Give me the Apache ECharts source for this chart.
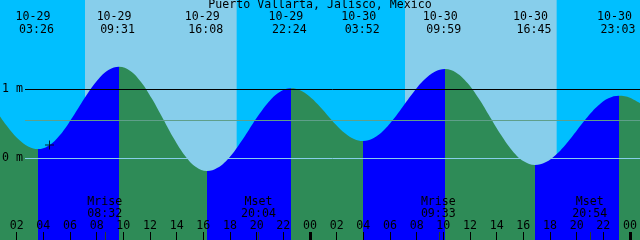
<!DOCTYPE html>
<html><head><meta charset="utf-8">
<script src="https://cdn.jsdelivr.net/npm/echarts@6/dist/echarts.min.js"></script>
<style>html,body{margin:0;padding:0;background:#00BFFF;overflow:hidden}#c{width:640px;height:240px}</style>
</head><body><div id="c"></div>
<script>
// ---- data ----
const title = 'Puerto Vallarta, Jalisco, Mexico';
// hours since 10-29 00:00
const tideHours = [0.75, 1.5, 2.2, 2.9, 3.6,
  4.359, 5.119, 5.878, 6.638, 7.397, 8.156, 8.916, 9.675,
  10.5, 11.325, 12.15, 12.975, 13.8, 14.625, 15.45, 16.275,
  17.063, 17.85, 18.638, 19.425, 20.213, 21.0, 21.788, 22.575,
  23.25, 23.925, 24.6, 25.275, 25.95, 26.625, 27.3, 27.975,
  28.744, 29.513, 30.281, 31.05, 31.819, 32.588, 33.356, 34.125,
  34.969, 35.813, 36.656, 37.5, 38.344, 39.188, 40.031, 40.875,
  41.663, 42.45, 43.238, 44.025, 44.813, 45.6, 46.388, 47.175,
  47.6, 48.0, 48.75];
const tideHeights = [0.60, 0.406, 0.26, 0.163, 0.13,
  0.175, 0.305, 0.498, 0.727, 0.955, 1.148, 1.278, 1.323,
  1.265, 1.102, 0.857, 0.568, 0.278, 0.033, -0.130, -0.188,
  -0.142, -0.013, 0.182, 0.411, 0.640, 0.835, 0.964, 1.01,
  0.981, 0.898, 0.774, 0.628, 0.482, 0.358, 0.275, 0.246,
  0.286, 0.399, 0.568, 0.768, 0.968, 1.137, 1.250, 1.29,
  1.237, 1.087, 0.861, 0.595, 0.329, 0.103, -0.047, -0.10,
  -0.062, 0.047, 0.210, 0.402, 0.593, 0.756, 0.865, 0.903,
  0.895, 0.872, 0.793];
// turning points where the fill changes between ebb and flood
const turnHours = [3.6, 9.675, 16.275, 22.575, 27.975, 34.125, 40.875, 47.175];
const extremeDates = ['10-29', '10-29', '10-29', '10-29', '10-30', '10-30', '10-30', '10-30'];
const extremeTimes = ['03:26', '09:31', '16:08', '22:24', '03:52', '09:59', '16:45', '23:03'];
const dayStartHours = [7.125, 31.125];
const dayEndHours = [18.5, 42.5];
const hourTicks = [2, 4, 6, 8, 10, 12, 14, 16, 18, 20, 22, 24, 26, 28, 30, 32, 34, 36, 38, 40, 42, 44, 46, 48];
const midnightTicks = [24, 48];
const moonTickHours = [8.65, 20.1, 33.7, 45.05];
const moonNames = ['Mrise', 'Mset', 'Mrise', 'Mset'];
const moonDates = ['10-29', '10-29', '10-30', '10-30'];
const moonTimes = ['08:32', '20:04', '09:33', '20:54'];
const levelLabels = [0, 1];
const mslLevel = 0.55;
const nowMark = [4.4625, 0.188];

// ---- styling / layout ----
const X_MIN = 0.75, X_MAX = 48.75;
const Y_MIN = -1.1884, Y_MAX = 2.2899;
const LINE_START = 2.625;
const FONT = "'DejaVu Sans Mono', monospace";
const FS = 11.6;
const EBB = '#2E8B57', FLOOD = '#0000FF', DAY = '#87CEEB', NIGHT = '#00BFFF';

function toHours(date, time) {
  const d = parseInt(date.split('-')[1], 10) - 29;
  const [hh, mm] = time.split(':').map(Number);
  return d * 24 + hh + mm / 60;
}

const pieces = [];
for (let i = 0; i <= turnHours.length; i++) {
  const p = { color: i % 2 === 0 ? EBB : FLOOD };
  if (i > 0) p.gte = turnHours[i - 1];
  if (i < turnHours.length) p.lt = turnHours[i];
  pieces.push(p);
}

const chart = echarts.init(document.getElementById('c'), null, { renderer: 'canvas' });
const baseX = {
  type: 'value', min: X_MIN, max: X_MAX, position: 'bottom', z: 10,
  axisLine: { show: false, onZero: false }, splitLine: { show: false }
};
chart.setOption({
  animation: false,
  backgroundColor: NIGHT,
  grid: { left: 0, right: 0, top: 0, bottom: 0, containLabel: false, outerBoundsMode: 'none' },
  xAxis: [
    Object.assign({}, baseX, {
      axisTick: { show: true, inside: true, length: 8, customValues: hourTicks, lineStyle: { color: '#000', width: 1 } },
      axisLabel: { show: true, inside: true, customValues: hourTicks, margin: 14, verticalAlign: 'middle',
        fontFamily: FONT, fontSize: FS, color: '#000',
        formatter: v => String(Math.round(v) % 24).padStart(2, '0') }
    }),
    Object.assign({}, baseX, {
      axisTick: { show: true, inside: true, length: 8, customValues: midnightTicks, lineStyle: { color: '#000', width: 3 } },
      axisLabel: { show: false }
    }),
    Object.assign({}, baseX, {
      axisTick: { show: true, inside: true, length: 8, customValues: moonTickHours, lineStyle: { color: '#2b3b2b', width: 1 } },
      axisLabel: { show: false }
    })
  ],
  yAxis: {
    type: 'value', min: Y_MIN, max: Y_MAX, z: 10,
    axisLine: { show: false, onZero: false }, axisTick: { show: false }, splitLine: { show: false },
    axisLabel: { show: true, inside: true, customValues: levelLabels, margin: 2, verticalAlign: 'middle',
      fontFamily: FONT, fontSize: FS, color: '#000', formatter: v => v + ' m' }
  },
  visualMap: { type: 'piecewise', show: false, dimension: 0, seriesIndex: 0, pieces: pieces },
  series: [
    {
      type: 'line', z: 3, smooth: 0.4, showSymbol: false, silent: true,
      data: tideHours.map((h, i) => [h, tideHeights[i]]),
      lineStyle: { width: 0, opacity: 0 },
      areaStyle: { opacity: 1, origin: 'start' },
      markArea: {
        silent: true, z: 1,
        itemStyle: { color: DAY, opacity: 1 },
        data: dayStartHours.map((s, i) => [{ xAxis: s }, { xAxis: dayEndHours[i] }])
      },
      markLine: {
        silent: true, z: 5, symbol: ['none', 'none'], label: { show: false },
        data: [
          [{ coord: [LINE_START, 1], lineStyle: { color: '#000', width: 1, type: 'solid' } }, { coord: [X_MAX, 1] }],
          [{ coord: [LINE_START, mslLevel], lineStyle: { color: '#5F9F8A', width: 1, type: 'solid' } }, { coord: [X_MAX, mslLevel] }],
          [{ coord: [LINE_START, 0], lineStyle: { color: '#87CEEB', width: 1, type: 'solid' } }, { coord: [X_MAX, 0] }]
        ]
      }
    },
    {
      type: 'scatter', z: 8, silent: true,
      symbol: 'path://M4,0h1v4h4v1h-4v4h-1v-4h-4v-1h4z', symbolSize: 9,
      itemStyle: { color: '#000' },
      data: [nowMark]
    }
  ]
});

const px = h => chart.convertToPixel({ xAxisIndex: 0 }, h);
const txt = (x, y, s) => ({ type: 'text', z: 100, x: x, y: y,
  style: { text: s, fill: '#000', font: FS + 'px ' + FONT, align: 'center', verticalAlign: 'middle' } });
const graphic = [txt(320, 5, title)];
extremeDates.forEach((d, i) => {
  const x = px(toHours(d, extremeTimes[i]));
  graphic.push(txt(x - 2.8, 16.5, d));
  graphic.push(txt(x + 0.7, 29.5, extremeTimes[i]));
});
moonNames.forEach((n, i) => {
  const x = px(toHours(moonDates[i], moonTimes[i]));
  graphic.push(txt(x + 1, 201.5, n));
  graphic.push(txt(x + 1, 213.5, moonTimes[i]));
});
chart.setOption({ graphic: graphic });
</script>
</body></html>
